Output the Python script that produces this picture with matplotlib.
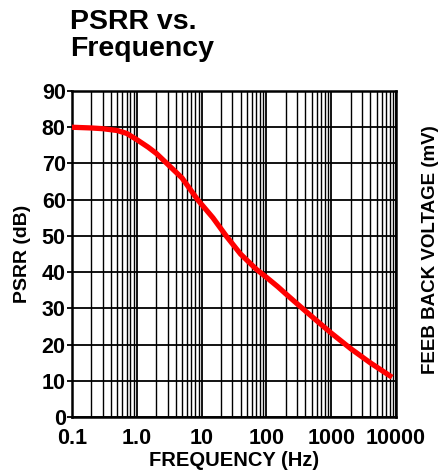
import matplotlib.pyplot as plt
from matplotlib.ticker import FixedLocator, LogLocator, NullFormatter

# Data
freq_hz = [0.1, 0.2, 0.3, 0.5, 0.7, 1.0, 1.5, 2.0, 3.0, 5.0, 8.7, 15, 24, 40, 70,
           100, 150, 200, 320, 500, 1000, 2000, 4000, 8700]
psrr_db = [80, 79.8, 79.6, 79.1, 78.3, 76.6, 74.5, 72.8, 69.8, 66, 60, 55, 50, 45, 40.8,
           38.6, 36, 34, 30.8, 27.8, 23.2, 18.9, 15, 11]

x_ticks = [0.1, 1, 10, 100, 1000, 10000]
x_tick_labels = ['0.1', '1.0', '10', '100', '1000', '10000']
y_ticks = [0, 10, 20, 30, 40, 50, 60, 70, 80, 90]

plt.rcParams['font.family'] = ['Liberation Sans', 'DejaVu Sans']

fig = plt.figure(figsize=(4.41, 4.74), dpi=100)
ax = fig.add_axes([0.163, 0.120, 0.735, 0.688])

ax.plot(freq_hz, psrr_db, color='#ff0000', lw=3.8, solid_capstyle='butt',
        solid_joinstyle='round', zorder=5)

ax.set_xscale('log')
ax.set_xlim(0.1, 10000)
ax.set_ylim(0, 90)
ax.xaxis.set_major_locator(FixedLocator(x_ticks))
ax.set_xticklabels(x_tick_labels)
ax.xaxis.set_minor_locator(LogLocator(base=10, subs=range(2, 10), numticks=20))
ax.xaxis.set_minor_formatter(NullFormatter())
ax.set_yticks(y_ticks)

ax.grid(True, which='major', axis='both', color='black', lw=1.3)
ax.grid(True, which='minor', axis='x', color='black', lw=1.0)
ax.tick_params(axis='x', which='both', length=0, labelsize=15.5, pad=8)
ax.tick_params(axis='y', length=3.5, width=1.3, labelsize=15.5, pad=1)
for lbl in ax.get_xticklabels() + ax.get_yticklabels():
    lbl.set_fontweight('bold')
for s in ax.spines.values():
    s.set_linewidth(1.8)

ax.set_xlabel('FREQUENCY (Hz)', fontsize=14.5, fontweight='bold', labelpad=1)
ax.set_ylabel('PSRR (dB)', fontsize=14, fontweight='bold', labelpad=8)

fig.text(0.158, 0.982, 'PSRR vs.\nFrequency', fontsize=20.5, fontweight='bold',
         ha='left', va='top', linespacing=1.05)
# right-hand label sits at the edge of the reference; kept just inside here
fig.text(0.977, 0.473, 'FEEB BACK VOLTAGE (mV)', fontsize=13.5, fontweight='bold',
         rotation=90, ha='center', va='center')

fig.savefig('out.png', dpi=100)
